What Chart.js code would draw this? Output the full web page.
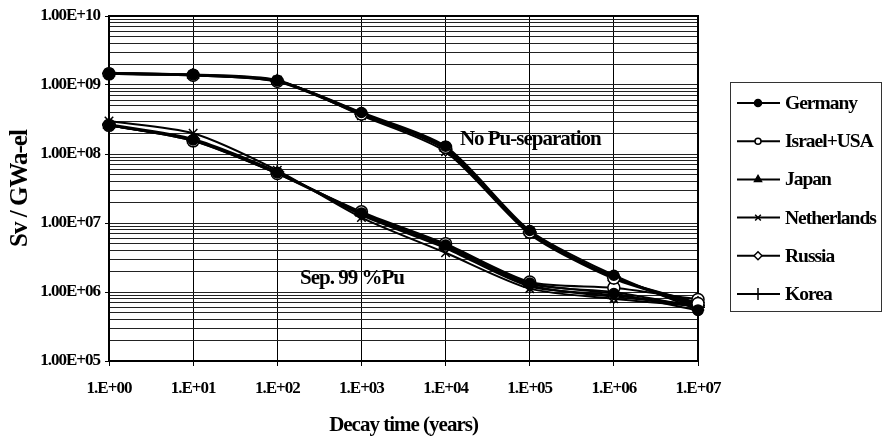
<!DOCTYPE html>
<html><head><meta charset="utf-8">
<script src="https://cdn.jsdelivr.net/npm/chart.js@4.4.1/dist/chart.umd.min.js"></script>
<style>html,body{margin:0;padding:0;background:#fff}#wrap{width:882px;height:439px}</style>
</head><body><div id="wrap"><canvas id="c" width="882" height="439"></canvas></div>
<script>
// ---------- data ----------
const decayTimes = [1, 10, 100, 1e3, 1e4, 1e5, 1e6, 1e7];
const countries = ['Germany', 'Israel+USA', 'Japan', 'Netherlands', 'Russia', 'Korea'];
const yTickLabels = ['1.00E+05', '1.00E+06', '1.00E+07', '1.00E+08', '1.00E+09', '1.00E+10'];
const xTickLabels = ['1.E+00', '1.E+01', '1.E+02', '1.E+03', '1.E+04', '1.E+05', '1.E+06', '1.E+07'];
const annotationTexts = ['No Pu-separation', 'Sep. 99 %Pu'];

// No Pu-separation
const noSepGermany     = [1.45e9, 1.40e9, 1.15e9, 4.0e8, 1.30e8, 7.8e6, 1.75e6, 5.5e5];
const noSepIsraelUSA   = [1.45e9, 1.38e9, 1.13e9, 3.8e8, 1.25e8, 7.4e6, 1.60e6, 6.8e5];
const noSepJapan       = [1.50e9, 1.40e9, 1.15e9, 3.9e8, 1.22e8, 7.5e6, 1.65e6, 6.2e5];
const noSepNetherlands = [1.50e9, 1.42e9, 1.18e9, 3.6e8, 1.08e8, 6.9e6, 1.55e6, 6.5e5];
const noSepRussia      = [1.45e9, 1.38e9, 1.12e9, 3.7e8, 1.15e8, 7.2e6, 1.60e6, 7.0e5];
const noSepKorea       = [1.48e9, 1.40e9, 1.15e9, 3.8e8, 1.18e8, 7.4e6, 1.65e6, 6.0e5];
// Sep. 99 % Pu
const sepGermany       = [2.6e8, 1.60e8, 5.3e7, 1.40e7, 4.8e6, 1.35e6, 9.5e5, 5.4e5];
const sepIsraelUSA     = [2.6e8, 1.55e8, 5.2e7, 1.45e7, 5.0e6, 1.40e6, 1.15e6, 7.8e5];
const sepJapan         = [2.6e8, 1.60e8, 5.4e7, 1.40e7, 4.6e6, 1.30e6, 1.00e6, 6.0e5];
const sepNetherlands   = [3.0e8, 2.00e8, 5.8e7, 1.20e7, 3.7e6, 1.12e6, 8.0e5, 6.2e5];
const sepRussia        = [2.6e8, 1.55e8, 5.2e7, 1.35e7, 4.5e6, 1.25e6, 8.5e5, 6.5e5];
const sepKorea         = [2.7e8, 1.65e8, 5.5e7, 1.30e7, 4.3e6, 1.20e6, 9.0e5, 6.3e5];

const noSepSeries = [noSepGermany, noSepIsraelUSA, noSepJapan, noSepNetherlands, noSepRussia, noSepKorea];
const sepSeries = [sepGermany, sepIsraelUSA, sepJapan, sepNetherlands, sepRussia, sepKorea];

// ---------- styles ----------
const markerStyles = [
  {pointStyle: 'circle', fill: '#000', radius: 5, legendRadius: 3.5},
  {pointStyle: 'circle', fill: '#fff', radius: 6, legendRadius: 3},
  {pointStyle: 'triangle', fill: '#000', radius: 6, legendRadius: 4},
  {pointStyle: 'crossRot', fill: '#000', radius: 6, legendRadius: 4},
  {pointStyle: 'rectRot', fill: '#fff', radius: 6, legendRadius: 4},
  {pointStyle: 'cross', fill: '#000', radius: 7, legendRadius: 6}
];
const FONT = "'Liberation Serif', 'Times New Roman', serif";
const SPACING = '-1px';

function toPoints(arr) { return arr.map((v, i) => ({x: decayTimes[i], y: v})); }

const datasets = [];
[noSepSeries, sepSeries].forEach((group, g) => {
  group.forEach((arr, i) => {
    const m = markerStyles[i];
    datasets.push({
      label: countries[i],
      legendIndex: g === 0 ? i : -1,
      data: toPoints(arr),
      borderColor: '#000',
      borderWidth: 2,
      tension: 0.25,
      clip: false,
      pointStyle: m.pointStyle,
      pointRadius: m.radius,
      pointHoverRadius: m.radius,
      pointBackgroundColor: m.fill,
      pointBorderColor: '#000',
      pointBorderWidth: 1.5,
      fill: false
    });
  });
});

function isPow10(v) { const e = Math.round(Math.log10(v)); return Math.abs(v - Math.pow(10, e)) < 1e-6 * v; }

const spacingPlugin = {
  id: 'spacing',
  beforeUpdate(chart) { chart.ctx.letterSpacing = SPACING; },
  beforeLayout(chart) { chart.ctx.letterSpacing = SPACING; },
  beforeDraw(chart) { chart.ctx.letterSpacing = SPACING; }
};

const framePlugin = {
  id: 'frame',
  beforeDatasetsDraw(chart) {
    const {ctx, chartArea: a} = chart;
    ctx.save();
    ctx.strokeStyle = '#000';
    ctx.lineWidth = 2;
    ctx.strokeRect(a.left, a.top, a.right - a.left, a.bottom - a.top);
    ctx.restore();
  }
};

const annotationPlugin = {
  id: 'notes',
  afterDatasetsDraw(chart, args, opts) {
    const {ctx, scales} = chart;
    ctx.save();
    ctx.letterSpacing = SPACING;
    ctx.fillStyle = '#000';
    ctx.font = 'bold 21px ' + FONT;
    ctx.textBaseline = 'middle';
    ctx.textAlign = 'left';
    opts.items.forEach(it => {
      ctx.fillText(it.text, scales.x.getPixelForValue(it.x), scales.y.getPixelForValue(it.y));
    });
    ctx.restore();
  }
};

const legendPlugin = {
  id: 'boxLegend',
  afterDraw(chart, args, opts) {
    const ctx = chart.ctx;
    ctx.save();
    ctx.letterSpacing = SPACING;
    ctx.strokeStyle = '#333';
    ctx.lineWidth = 1;
    ctx.strokeRect(opts.left + 0.5, opts.top + 0.5, opts.width, opts.height);
    const items = chart.data.datasets.filter(d => d.legendIndex >= 0);
    items.forEach((d, k) => {
      const y = opts.firstY + k * opts.step;
      const m = markerStyles[d.legendIndex];
      ctx.strokeStyle = '#000';
      ctx.lineWidth = 2;
      ctx.beginPath();
      ctx.moveTo(opts.left + 7, y);
      ctx.lineTo(opts.left + 50, y);
      ctx.stroke();
      ctx.fillStyle = m.fill;
      ctx.lineWidth = 1.5;
      Chart.helpers.drawPoint(ctx, {pointStyle: m.pointStyle, radius: m.legendRadius, rotation: 0, borderWidth: 1.5}, opts.left + 28, y);
      ctx.fillStyle = '#000';
      ctx.font = 'bold 19.5px ' + FONT;
      ctx.textBaseline = 'middle';
      ctx.textAlign = 'left';
      ctx.fillText(d.label, opts.left + 55, y + 1);
    });
    ctx.restore();
  }
};

new Chart(document.getElementById('c'), {
  type: 'line',
  data: {datasets},
  plugins: [spacingPlugin, framePlugin, annotationPlugin, legendPlugin],
  options: {
    responsive: false,
    animation: false,
    events: [],
    layout: {padding: {left: 0, right: 184, top: 16, bottom: 0}},
    plugins: {
      legend: {display: false},
      tooltip: {enabled: false},
      notes: {items: [
        {text: annotationTexts[0], x: Math.pow(10, 4.17), y: Math.pow(10, 8.21)},
        {text: annotationTexts[1], x: Math.pow(10, 2.27), y: Math.pow(10, 6.2)}
      ]},
      boxLegend: {left: 730, top: 82, width: 151, height: 229, firstY: 103, step: 38.2}
    },
    scales: {
      x: {
        type: 'logarithmic',
        min: 1, max: 1e7,
        afterBuildTicks: s => { s.ticks = decayTimes.map(v => ({value: v})); },
        afterFit: s => { s.height = 78; },
        ticks: {
          autoSkip: false, maxRotation: 0, padding: 12, color: '#000',
          font: {family: FONT, size: 17, weight: 'bold'},
          callback: v => xTickLabels[Math.round(Math.log10(v))]
        },
        grid: {color: '#000', lineWidth: 1, tickLength: 5, tickColor: '#000'},
        border: {color: '#000', width: 2},
        title: {display: true, text: 'Decay time (years)', color: '#000',
          font: {family: FONT, size: 21, weight: 'bold'}, padding: {top: 0, bottom: 1}}
      },
      y: {
        type: 'logarithmic',
        min: 1e5, max: 1e10,
        afterBuildTicks: s => {
          const t = [];
          for (let e = 5; e <= 10; e++) for (let k = 1; k <= 9; k++) {
            const v = k * Math.pow(10, e);
            if (v <= 1e10) t.push({value: v});
          }
          s.ticks = t;
        },
        afterFit: s => { s.width = 109; },
        ticks: {
          autoSkip: false, padding: 5, color: '#000',
          font: {family: FONT, size: 17, weight: 'bold'},
          callback: v => isPow10(v) ? yTickLabels[Math.round(Math.log10(v)) - 5] : ''
        },
        grid: {color: '#222', lineWidth: 1, tickLength: 4,
          tickColor: c => (c.tick && isPow10(c.tick.value)) ? '#000' : 'rgba(0,0,0,0)'},
        border: {color: '#000', width: 2},
        title: {display: true, text: 'Sv / GWa-el', color: '#000',
          font: {family: FONT, size: 25, weight: 'bold'}, padding: {top: 6, bottom: 0}}
      }
    }
  }
});
</script></body></html>
